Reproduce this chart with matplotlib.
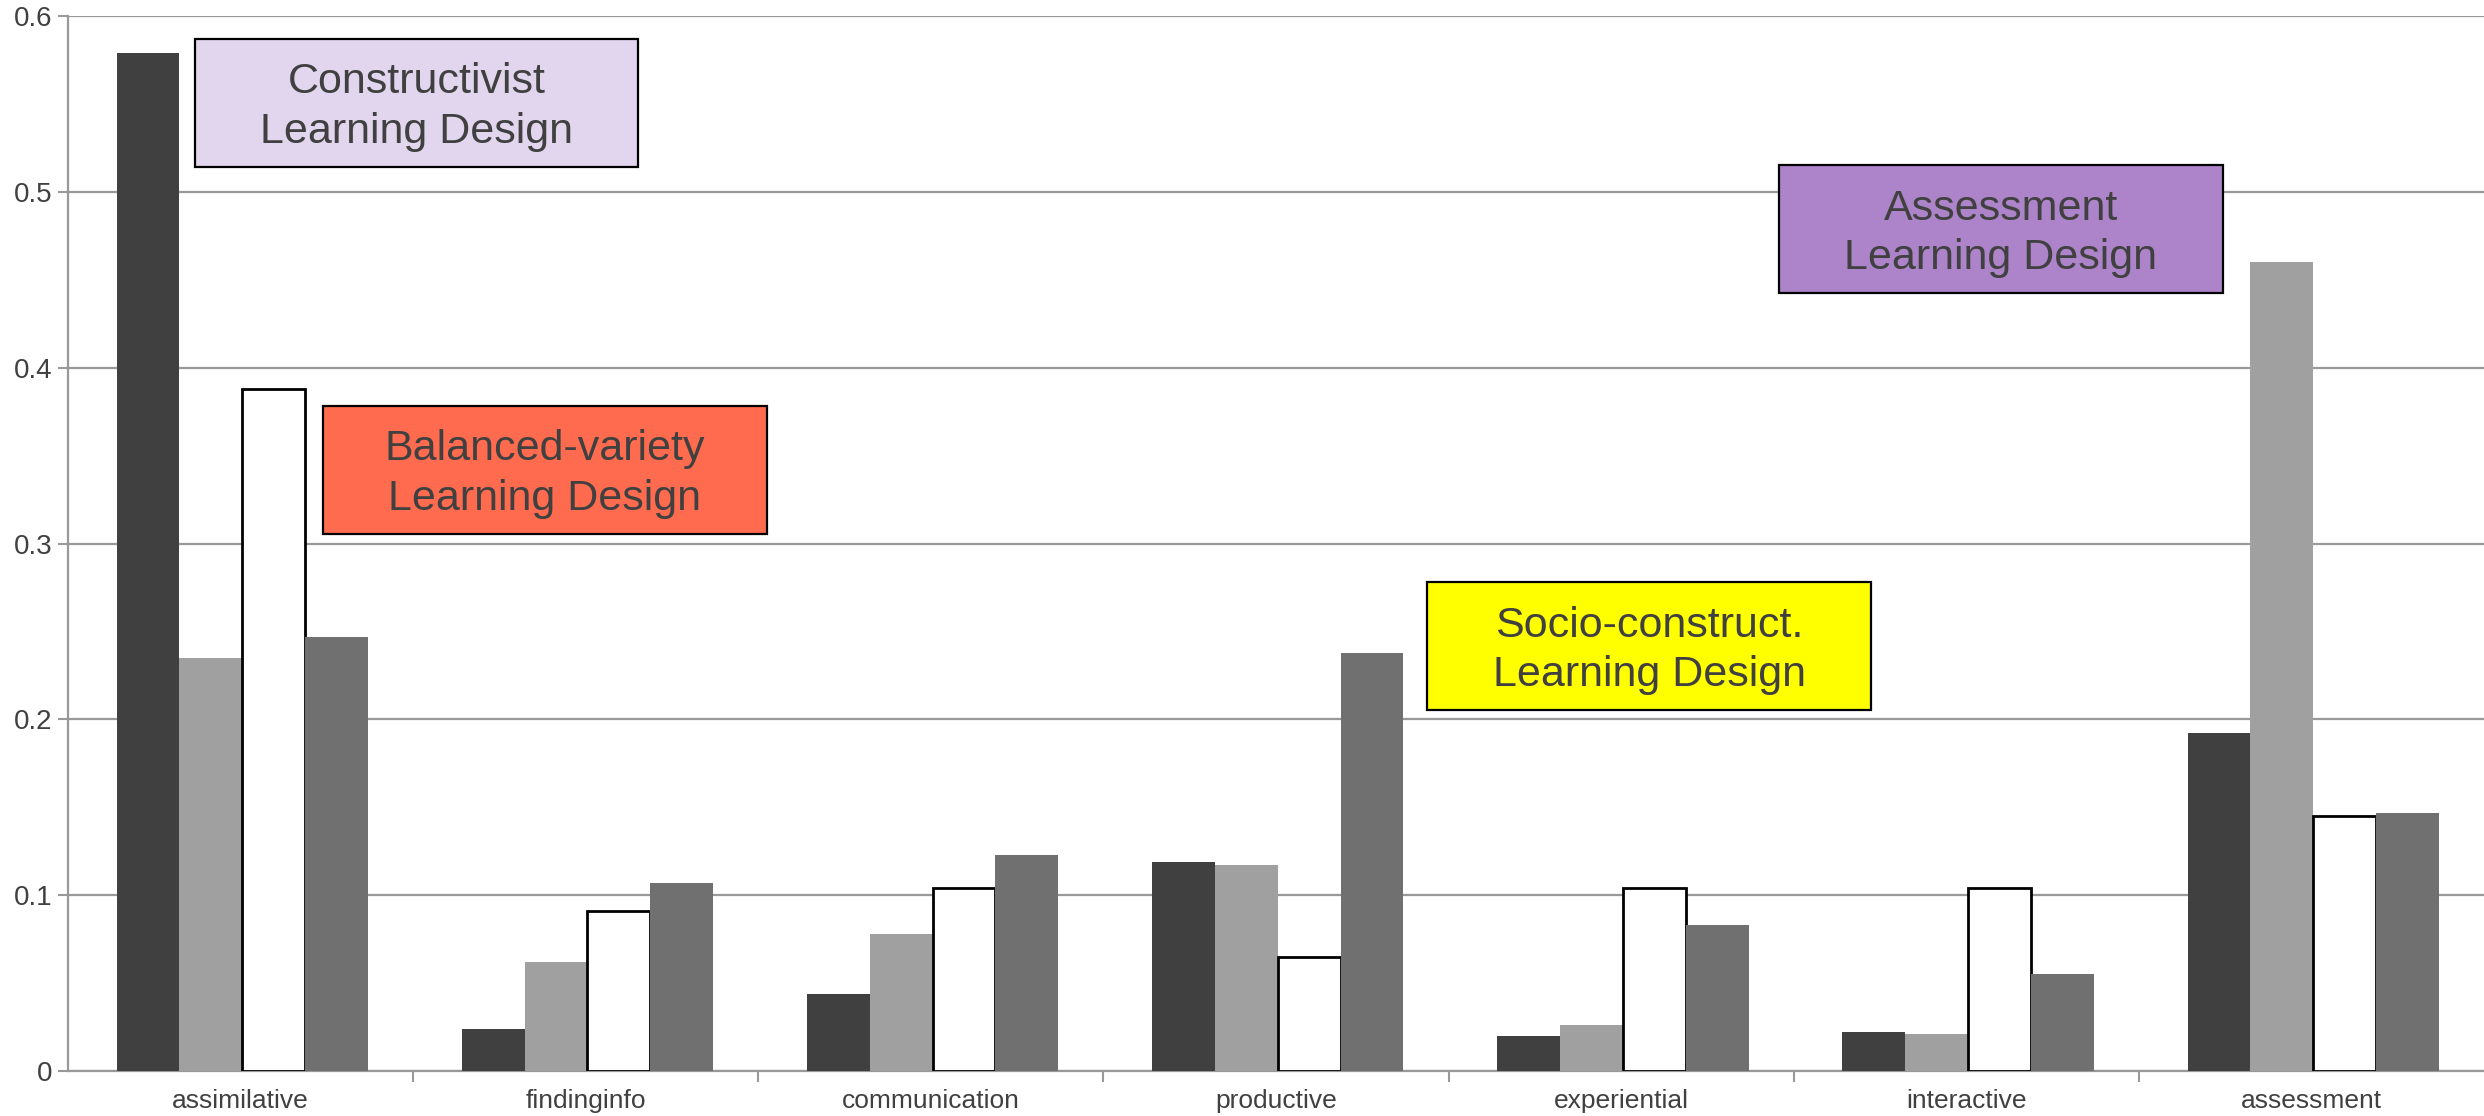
import matplotlib
matplotlib.use('Agg')
import matplotlib.pyplot as plt
from matplotlib.patches import Rectangle
import numpy as np

# categories of activity and the four learning-design profiles
categories = ['assimilative', 'findinginfo', 'communication', 'productive',
              'experiential', 'interactive', 'assessment']
constructivist = [0.579, 0.024, 0.044, 0.119, 0.020, 0.022, 0.192]
assessment_ld = [0.235, 0.062, 0.078, 0.117, 0.026, 0.021, 0.460]
balanced = [0.388, 0.091, 0.104, 0.065, 0.104, 0.104, 0.145]
socio = [0.247, 0.107, 0.123, 0.238, 0.083, 0.055, 0.147]

series = [constructivist, assessment_ld, balanced, socio]
fills = ['#404040', '#a0a0a0', '#ffffff', '#707070']
edges = ['none', 'none', '#000000', 'none']

box_labels = ['Constructivist\nLearning Design', 'Balanced-variety\nLearning Design',
              'Socio-construct.\nLearning Design', 'Assessment\nLearning Design']
box_colors = ['#e2d6ef', '#ff6b4f', '#ffff00', '#ad84c9']

plt.rcParams['font.family'] = ['Liberation Sans', 'DejaVu Sans']

fig = plt.figure(figsize=(24.84, 11.16), dpi=100)
ax = fig.add_axes([68 / 2484, 45 / 1116, 1 - 68 / 2484, 1055 / 1116])

index = np.arange(len(categories))
width = 0.182
for j, vals in enumerate(series):
    ax.bar(index + (j - 1.5) * width + 0.005, vals, width, color=fills[j],
           edgecolor=edges[j], linewidth=2.0, zorder=3)

ax.set_xlim(-0.5, len(categories) - 0.5)
ax.set_ylim(0, 0.6)
ax.set_yticks(np.arange(0, 0.61, 0.1))
ax.set_yticklabels(['0', '0.1', '0.2', '0.3', '0.4', '0.5', '0.6'])
ax.set_xticks(index)
ax.set_xticklabels(categories)
ax.set_xticks(np.arange(0.5, len(categories) - 0.5, 1), minor=True)
ax.tick_params(axis='x', which='major', length=0, pad=13, labelsize=19, labelcolor='#404040')
ax.tick_params(axis='x', which='minor', length=8, width=1.5, color='#999999', direction='out')
ax.tick_params(axis='y', length=7, width=1.5, color='#999999', labelsize=20,
               labelcolor='#404040', pad=4)
ax.grid(axis='y', color='#999999', linewidth=1.6, zorder=0)
for s in ['top', 'right']:
    ax.spines[s].set_visible(False)
for s in ['left', 'bottom']:
    ax.spines[s].set_color('#999999')
    ax.spines[s].set_linewidth(1.6)

# annotation boxes (axes fraction)
box_pos = [(0.0525, 0.857), (0.1056, 0.509), (0.5626, 0.342), (0.7082, 0.737)]
bw, bh = 0.1836, 0.1216
for (x0, y0), lab, col in zip(box_pos, box_labels, box_colors):
    ax.add_patch(Rectangle((x0, y0), bw, bh, transform=ax.transAxes,
                           facecolor=col, edgecolor='#000000', linewidth=1.6, zorder=5))
    ax.text(x0 + bw / 2, y0 + bh / 2 - 0.004, lab, transform=ax.transAxes, ha='center',
            va='center', fontsize=31, color='#404040', linespacing=1.3, zorder=6)

fig.savefig('out.png', dpi=100)
